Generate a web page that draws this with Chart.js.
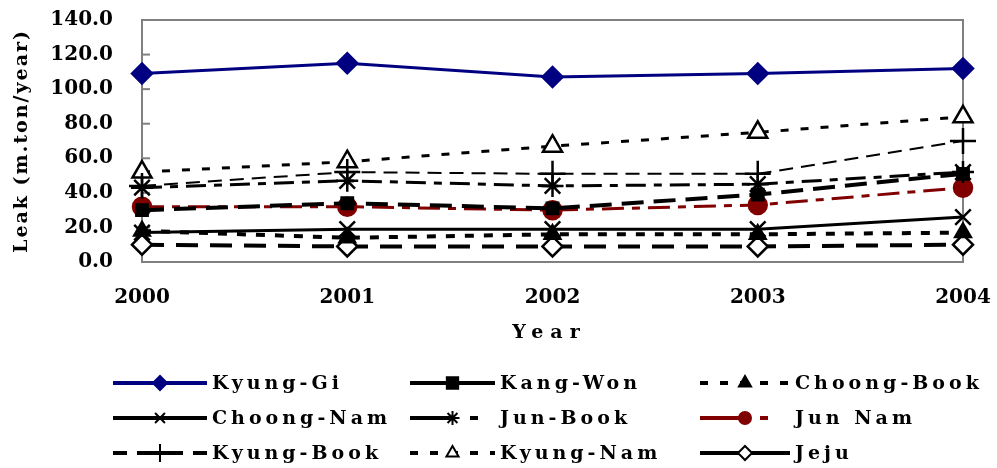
<!DOCTYPE html>
<html>
<head>
<meta charset="utf-8">
<script src="https://cdn.jsdelivr.net/npm/chart.js@4/dist/chart.umd.min.js"></script>
<style>
  html, body { margin: 0; padding: 0; background: #fff; }
  #wrap { width: 997px; height: 468px; }
</style>
</head>
<body>
<div id="wrap"><canvas id="leak-chart" width="997" height="468"></canvas></div>
<script>
const years = ['2000', '2001', '2002', '2003', '2004'];
const regions = ['Kyung-Gi', 'Kang-Won', 'Choong-Book', 'Choong-Nam', 'Jun-Book', 'Jun Nam', 'Kyung-Book', 'Kyung-Nam', 'Jeju'];

const kyungGi = [109, 115, 107, 109, 112];
const kangWon = [30, 34, 31, 39, 51];
const choongBook = [18, 14, 16, 16, 17];
const choongNam = [17, 19, 19, 19, 26];
const junBook = [43, 47, 44, 45, 52];
const junNam = [32, 32, 30, 33, 43];
const kyungBook = [44, 52, 51, 51, 70];
const kyungNam = [52, 58, 67, 75, 84];
const jeju = [10, 9, 9, 9, 10];

const yTicks = [0, 20, 40, 60, 80, 100, 120, 140];

const FONT = '"DejaVu Serif", serif';

// line + marker look for each region
const styles = [
  { data: kyungGi,    color: '#000080', width: 3, dash: [],            point: 'rectRot',  r: 10, fill: '#000080', legendDash: [],                 legendR: 7 },
  { data: kangWon,    color: '#000',    width: 4, dash: [22, 10],      point: 'rect',     r: 8,  fill: '#000',    legendDash: [],                 legendR: 8 },
  { data: choongBook, color: '#000',    width: 4, dash: [9, 10],       point: 'triangle', r: 9,  fill: '#000',    legendDash: [8, 12],            legendR: 7 },
  { data: choongNam,  color: '#000',    width: 3, dash: [],            point: 'crossRot', r: 11, fill: '#000',    legendDash: [],                 legendR: 7 },
  { data: junBook,    color: '#000',    width: 3, dash: [20, 8, 8, 8], point: 'star',     r: 11, fill: '#000',    legendDash: [45, 15, 8, 40],    legendR: 7 },
  { data: junNam,     color: '#800000', width: 3, dash: [22, 8, 8, 8], point: 'circle',   r: 9,  fill: '#800000', legendDash: [45, 15, 8, 40],    legendR: 6 },
  { data: kyungBook,  color: '#000',    width: 2, dash: [14, 8],       point: 'cross',    r: 13, fill: '#000',    legendDash: [14, 10, 46, 10, 14], legendR: 9 },
  { data: kyungNam,   color: '#000',    width: 3, dash: [8, 12],       point: 'triangle', r: 11, fill: '#fff',    legendDash: [8, 12],            legendR: 7 },
  { data: jeju,       color: '#000',    width: 4, dash: [22, 12],      point: 'rectRot',  r: 10, fill: '#fff',    legendDash: [],                 legendR: 7 },
];

const datasets = regions.map((name, i) => {
  const s = styles[i];
  return {
    label: name,
    data: s.data,
    borderColor: s.color,
    borderWidth: s.width,
    borderDash: s.dash,
    pointStyle: s.point,
    pointRadius: s.r,
    pointHoverRadius: s.r,
    pointBackgroundColor: s.fill,
    pointBorderColor: s.color,
    pointBorderWidth: 2.5,
    tension: 0,
    fill: false,
    clip: false,
  };
});

// frame, inside tick marks, axis titles and the legend
const decorations = {
  id: 'decorations',
  beforeDatasetsDraw(chart) {
    const { ctx, chartArea: a } = chart;
    ctx.save();
    ctx.strokeStyle = '#808080';
    ctx.lineWidth = 2;
    ctx.strokeRect(a.left, a.top, a.right - a.left, a.bottom - a.top);
    const y = chart.scales.y;
    y.ticks.forEach((t, i) => {
      const py = y.getPixelForTick(i);
      ctx.beginPath();
      ctx.moveTo(a.left, py);
      ctx.lineTo(a.left + 8, py);
      ctx.stroke();
    });
    ctx.restore();
  },
  afterDraw(chart) {
    const { ctx, chartArea: a } = chart;
    ctx.save();
    ctx.fillStyle = '#000';
    ctx.font = 'bold 19px ' + FONT;
    ctx.textBaseline = 'middle';
    ctx.textAlign = 'center';
    ctx.letterSpacing = '2px';

    // y title
    ctx.save();
    ctx.translate(22, (a.top + a.bottom) / 2);
    ctx.rotate(-Math.PI / 2);
    ctx.fillText('Leak (m.ton/year)', 0, 0);
    ctx.restore();

    // x title
    ctx.letterSpacing = '7px';
    ctx.fillText('Year', (a.left + a.right) / 2 - 3, 333);

    // legend
    ctx.letterSpacing = '4px';
    ctx.textAlign = 'left';
    const colX = [113, 410, 700];
    const colW = [94, 85, 90];
    const rowY = [383, 418, 453];
    chart.data.datasets.forEach((ds, i) => {
      const s = styles[i];
      const c = i % 3, r = Math.floor(i / 3);
      const x0 = colX[c], x1 = colX[c] + colW[c], y = rowY[r];
      ctx.save();
      ctx.strokeStyle = s.color;
      ctx.lineWidth = 4;
      ctx.setLineDash(s.legendDash);
      ctx.beginPath();
      ctx.moveTo(x0, y);
      ctx.lineTo(x1, y);
      ctx.stroke();
      ctx.setLineDash([]);
      ctx.fillStyle = s.fill;
      ctx.strokeStyle = s.color;
      ctx.lineWidth = 2;
      Chart.helpers.drawPoint(ctx, { pointStyle: s.point, radius: s.legendR, borderWidth: 2, rotation: 0 }, (x0 + x1) / 2, y);
      ctx.restore();
      ctx.fillText(ds.label, x1 + 5, y + 1);
    });
    ctx.restore();
  },
};

new Chart(document.getElementById('leak-chart'), {
  type: 'line',
  data: { labels: years, datasets: datasets },
  options: {
    responsive: false,
    animation: false,
    events: [],
    layout: { autoPadding: false, padding: { left: 0, top: 20, right: 34, bottom: 116 } },
    plugins: { legend: { display: false }, tooltip: { enabled: false } },
    scales: {
      x: {
        offset: false,
        grid: { display: false, drawTicks: false },
        border: { display: false },
        ticks: {
          color: '#000',
          padding: 24,
          maxRotation: 0,
          font: { family: FONT, weight: 'bold', size: 20 },
        },
        afterFit(scale) { scale.height = 90; scale.paddingRight = 0; scale.paddingLeft = 0; },
      },
      y: {
        min: 0,
        max: 140,
        afterBuildTicks(scale) { scale.ticks = yTicks.map(v => ({ value: v })); },
        grid: { display: false, drawTicks: false },
        border: { display: false },
        ticks: {
          color: '#000',
          padding: 29,
          font: { family: FONT, weight: 'bold', size: 20 },
          callback: v => Number(v).toFixed(1),
        },
        afterFit(scale) { scale.width = 142; scale.paddingTop = 0; scale.paddingBottom = 0; },
      },
    },
  },
  plugins: [decorations],
});
</script>
</body>
</html>
